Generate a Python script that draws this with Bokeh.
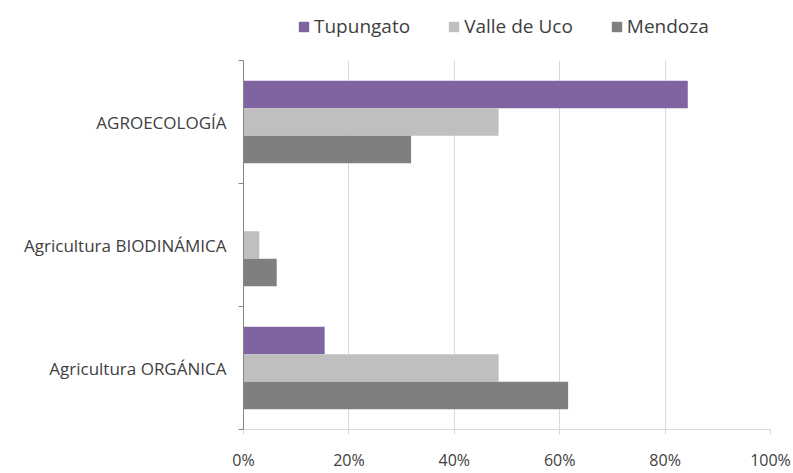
from bokeh.plotting import figure
from bokeh.layouts import column
from bokeh.models import (Range1d, FixedTicker, NumeralTickFormatter, Legend, LegendItem,
                          ColumnDataSource)
from bokeh.embed import file_html
from bokeh.resources import INLINE

# Data (categories listed bottom to top)
categories = ["Agricultura ORGÁNICA", "Agricultura BIODINÁMICA", "AGROECOLOGÍA"]
series = ["Tupungato", "Valle de Uco", "Mendoza"]
tupungato = [0.154, 0.0, 0.843]
valle_de_uco = [0.484, 0.030, 0.484]
mendoza = [0.616, 0.063, 0.318]
colors = ["#8064A2", "#BFBFBF", "#7F7F7F"]
x_ticks = [0, 0.2, 0.4, 0.6, 0.8, 1.0]

FONT = "Open Sans"
TEXT_COLOR = "#404040"
bar_h = 0.223
offsets = [bar_h, 0.0, -bar_h]
W = 793
FRAME_LEFT = 243

sources = []
for vals, off in zip([tupungato, valle_de_uco, mendoza], offsets):
    sources.append(ColumnDataSource(dict(y=[i + 0.5 + off for i in range(len(categories))],
                                         right=vals)))

# ---------------- main chart ----------------
p = figure(width=W, height=423, output_backend="svg", toolbar_location=None,
           x_range=Range1d(0, 1), y_range=Range1d(0, len(categories)),
           min_border_left=FRAME_LEFT, min_border_right=W - 770, min_border_bottom=36,
           min_border_top=10)
p.outline_line_color = None
p.background_fill_color = "white"

for src, col in zip(sources, colors):
    p.hbar(y="y", left=0, right="right", height=bar_h, source=src,
           fill_color=col, line_color=None)

# x axis
p.xaxis.ticker = FixedTicker(ticks=x_ticks)
p.xaxis.formatter = NumeralTickFormatter(format="0%")
p.xaxis.axis_line_color = "#D9D9D9"
p.xaxis.major_tick_line_color = "#D9D9D9"
p.xaxis.major_tick_out = 5
p.xaxis.major_tick_in = 0
p.xaxis.minor_tick_line_color = None
p.xaxis.major_label_text_font = FONT
p.xaxis.major_label_text_font_size = "16px"
p.xaxis.major_label_text_color = TEXT_COLOR
p.xaxis.major_label_standoff = 14

# y axis: labels at category centres, ticks at boundaries
p.yaxis.ticker = FixedTicker(ticks=[i + 0.5 for i in range(len(categories))],
                             minor_ticks=list(range(len(categories) + 1)))
p.yaxis.major_label_overrides = {i + 0.5: c for i, c in enumerate(categories)}
p.yaxis.major_tick_line_color = None
p.yaxis.minor_tick_line_color = "#868686"
p.yaxis.minor_tick_out = 5
p.yaxis.minor_tick_in = 0
p.yaxis.axis_line_color = "#868686"
p.yaxis.major_label_text_font = FONT
p.yaxis.major_label_text_font_size = "17px"
p.yaxis.major_label_text_color = TEXT_COLOR
p.yaxis.major_label_standoff = 11

p.xgrid.grid_line_color = "#D9D9D9"
p.xgrid.ticker = FixedTicker(ticks=x_ticks)
p.ygrid.grid_line_color = None

# ---------------- legend strip ----------------
lg = figure(width=W, height=50, output_backend="svg", toolbar_location=None,
            x_range=Range1d(0, 1), y_range=Range1d(0, 1),
            min_border_left=FRAME_LEFT, min_border_right=W - 770, min_border_top=0,
            min_border_bottom=0)
lg.outline_line_color = None
lg.axis.visible = False
lg.grid.grid_line_color = None
leg_renderers = []
for src, col in zip(sources, colors):
    r = lg.hbar(y="y", left=0, right="right", height=bar_h, source=src,
                fill_color=col, line_color=None, visible=False)
    leg_renderers.append(r)

legend = Legend(items=[LegendItem(label=s, renderers=[r]) for s, r in zip(series, leg_renderers)],
                orientation="horizontal", location=(297 - FRAME_LEFT, 11))
legend.label_text_font = FONT
legend.label_text_font_size = "19px"
legend.label_text_color = TEXT_COLOR
legend.glyph_width = 13
legend.glyph_height = 13
legend.label_standoff = 4
legend.spacing = 37
legend.border_line_color = None
legend.background_fill_alpha = 0
legend.padding = 0
legend.margin = 0
legend.click_policy = "none"
lg.add_layout(legend, "center")

layout = column(lg, p, spacing=0)
open("out.html", "w").write(file_html(layout, INLINE))
